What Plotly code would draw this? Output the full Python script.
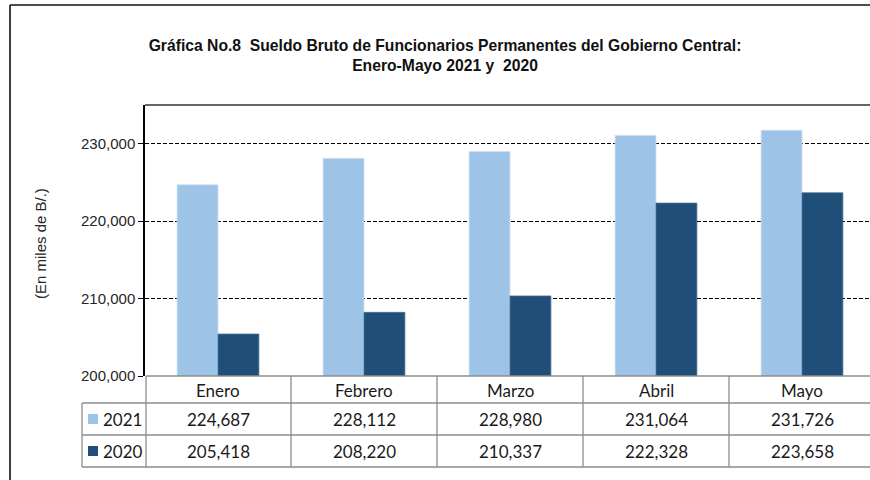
import plotly.graph_objects as go

# ---- data ----
months = ["Enero", "Febrero", "Marzo", "Abril", "Mayo"]
values_2021 = [224687, 228112, 228980, 231064, 231726]
values_2020 = [205418, 208220, 210337, 222328, 223658]
series_names = ["2021", "2020"]
y_ticks = [200000, 210000, 220000, 230000]

title_text = ("Gráfica No.8  Sueldo Bruto de Funcionarios Permanentes del Gobierno Central:"
              "<br>Enero-Mayo 2021 y  2020")
y_title = "(En miles de B/.)"

# ---- style ----
C_LIGHT = "#9DC3E6"
C_DARK = "#1F4E79"
GRID_GRAY = "#8C8C8C"
W, H = 870, 480
L, R, T, B = 145, 870, 105, 376
CAT_PX = 146.0

def px(x):
    return (x - L) / (R - L)

def py(y):
    return (B - y) / (B - T)

fig = go.Figure()
fig.add_trace(go.Bar(x=list(range(len(months))), y=values_2021, name=series_names[0],
                     marker=dict(color=C_LIGHT, line=dict(color="#C9DFF2", width=0.8))))
fig.add_trace(go.Bar(x=list(range(len(months))), y=values_2020, name=series_names[1],
                     marker=dict(color=C_DARK, line=dict(color="#4A6F94", width=0.8))))

shapes = []
line_blk = dict(color="#111111", width=1.6)
line_gray = dict(color=GRID_GRAY, width=1.3)
# outer frame (left + top)
shapes.append(dict(type="line", xref="paper", yref="paper", x0=px(10), x1=px(10), y0=py(5), y1=-0.6, line=line_blk))
shapes.append(dict(type="line", xref="paper", yref="paper", x0=px(10), x1=1.05, y0=py(5), y1=py(5), line=line_blk))
# plot top border
shapes.append(dict(type="line", xref="paper", yref="paper", x0=0, x1=1.05, y0=1, y1=1, line=dict(color="#333333", width=1.6)))

# data table grid
row_lines = [B, 403, 435, 467]
for i, yy in enumerate(row_lines):
    x0 = px(146) if i == 0 else px(82)
    shapes.append(dict(type="line", xref="paper", yref="paper", x0=x0, x1=1.05, y0=py(yy), y1=py(yy), line=line_gray))
shapes.append(dict(type="line", xref="paper", yref="paper", x0=px(82), x1=px(82), y0=py(403), y1=py(467), line=line_gray))
shapes.append(dict(type="line", xref="paper", yref="paper", x0=px(146), x1=px(146), y0=py(B), y1=py(467), line=line_gray))
for i in range(len(months) - 1):
    shapes.append(dict(type="line", xref="x", yref="paper", x0=i + 0.5, x1=i + 0.5, y0=py(B), y1=py(467), line=line_gray))

annotations = []
table_font = dict(family="Lato, Carlito, sans-serif", size=17, color="#1a1a1a")
for i, m in enumerate(months):
    annotations.append(dict(x=i, y=py(390), xref="x", yref="paper", text=m, showarrow=False,
                            font=table_font, xanchor="center", yanchor="middle"))
row_centers = [419, 451]
for vals, yc, color, name in zip([values_2021, values_2020], row_centers, [C_LIGHT, C_DARK], series_names):
    for i, v in enumerate(vals):
        annotations.append(dict(x=i, y=py(yc), xref="x", yref="paper", text=f"{v:,}", showarrow=False,
                                font=table_font, xanchor="center", yanchor="middle"))
    shapes.append(dict(type="rect", xref="paper", yref="paper", x0=px(88), x1=px(98),
                       y0=py(yc + 5), y1=py(yc - 5), fillcolor=color, line=dict(width=0)))
    annotations.append(dict(x=px(101), y=py(yc), xref="paper", yref="paper", text=name, showarrow=False,
                            font=table_font, xanchor="left", yanchor="middle"))

# y-axis title
annotations.append(dict(x=px(40), y=py(243), xref="paper", yref="paper", text=y_title, textangle=-90,
                        showarrow=False, font=dict(family="Liberation Sans, Arial", size=15, color="#262626"),
                        xanchor="center", yanchor="middle"))

fig.update_layout(
    width=W, height=H,
    margin=dict(l=L, r=W - R, t=T, b=H - B, pad=0),
    paper_bgcolor="white", plot_bgcolor="white",
    showlegend=False,
    barmode="group", bargap=0.44, bargroupgap=0,
    title=dict(text=title_text, x=445 / W, xanchor="center", y=1 - 51 / H, yanchor="middle",
               xref="container", yref="container",
               font=dict(family="Liberation Sans Narrow, Liberation Sans, Arial", size=15.7, color="#111111", weight="bold")),
    xaxis=dict(range=[-0.5, -0.5 + (R - L) / CAT_PX], showticklabels=False, showgrid=False,
               zeroline=False, showline=False, ticks=""),
    yaxis=dict(range=[200000, 235000], tickvals=y_ticks, tickformat=",", showgrid=True,
               gridcolor="#000000", gridwidth=1, griddash="4px,2px",
               showline=True, linecolor="#000000", linewidth=1.5,
               ticks="outside", ticklen=5, tickcolor="#000000", tickwidth=1.2,
               zeroline=False,
               tickfont=dict(family="Liberation Sans, Arial", size=15, color="#262626")),
    shapes=shapes, annotations=annotations,
)

fig.write_html("out.html", config={"displayModeBar": False},
               post_script="document.body.style.margin='0';document.body.style.overflow='hidden';")
